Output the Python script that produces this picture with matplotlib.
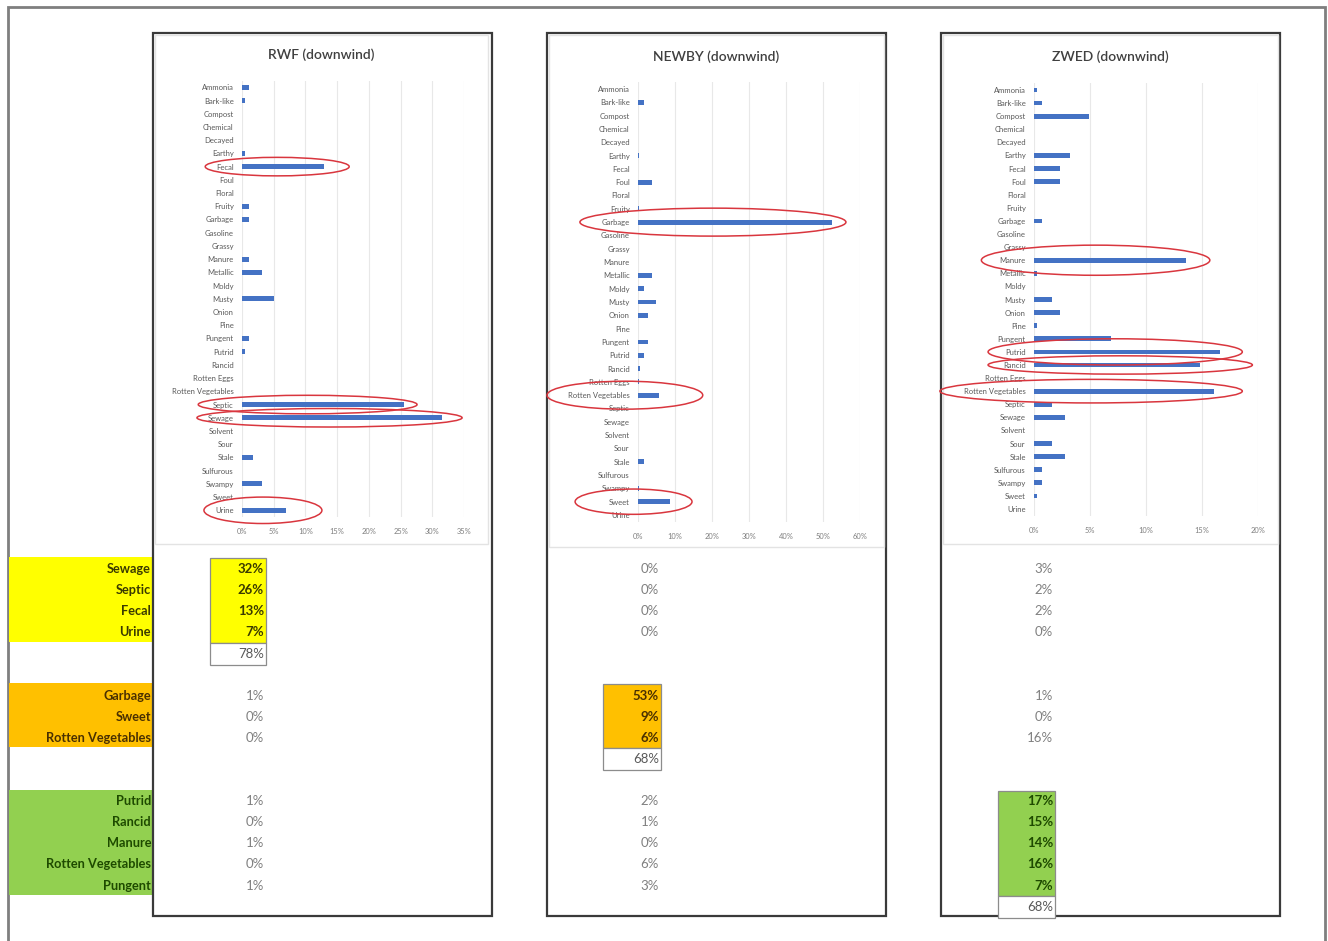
import matplotlib
matplotlib.use("Agg")
import matplotlib.pyplot as plt
from matplotlib.patches import Rectangle, Ellipse
import numpy as np

plt.rcParams['font.family'] = ['Lato', 'DejaVu Sans']

W, H = 1328, 941

# ---------------- data ----------------
categories = ["Ammonia", "Bark-like", "Compost", "Chemical", "Decayed", "Earthy",
              "Fecal", "Foul", "Floral", "Fruity", "Garbage", "Gasoline", "Grassy",
              "Manure", "Metallic", "Moldy", "Musty", "Onion", "Pine", "Pungent",
              "Putrid", "Rancid", "Rotten Eggs", "Rotten Vegetables", "Septic",
              "Sewage", "Solvent", "Sour", "Stale", "Sulfurous", "Swampy", "Sweet", "Urine"]

rwf_values = [1.1, 0.4, 0, 0, 0, 0.4, 13.0, 0, 0, 1.1, 1.1, 0, 0, 1.1, 3.1, 0, 5.0,
              0, 0, 1.1, 0.4, 0, 0, 0, 25.6, 31.5, 0, 0, 1.7, 0, 3.1, 0, 7.0]
newby_values = [0, 1.6, 0, 0, 0, 0.3, 0, 3.8, 0, 0.3, 52.5, 0, 0, 0, 3.8, 1.6, 4.8,
                2.7, 0, 2.7, 1.6, 0.5, 0.3, 5.7, 0, 0, 0, 0, 1.6, 0, 0.3, 8.7, 0]
zwed_values = [0.3, 0.7, 4.9, 0, 0, 3.2, 2.35, 2.35, 0, 0, 0.7, 0, 0, 13.6, 0.3, 0,
               1.6, 2.35, 0.3, 6.9, 16.6, 14.8, 0, 16.1, 1.6, 2.8, 0, 1.6, 2.8, 0.7,
               0.7, 0.3, 0]

titles = ["RWF (downwind)", "NEWBY (downwind)", "ZWED (downwind)"]
x_max = [35, 60, 20]
x_step = [5, 10, 5]

group_labels = [["Sewage", "Septic", "Fecal", "Urine"],
                ["Garbage", "Sweet", "Rotten Vegetables"],
                ["Putrid", "Rancid", "Manure", "Rotten Vegetables", "Pungent"]]
group_colors = ["#FFFF00", "#FFC000", "#92D050"]
group_text_colors = ["#3A3A00", "#4A3000", "#1E4A00"]

table_rwf = [[32, 26, 13, 7], [1, 0, 0], [1, 0, 1, 0, 1]]
table_newby = [[0, 0, 0, 0], [53, 9, 6], [2, 1, 0, 6, 3]]
table_zwed = [[3, 2, 2, 0], [1, 0, 16], [17, 15, 14, 16, 7]]
highlight_group = [0, 1, 2]
group_totals = [78, 68, 68]

# hand-drawn red ellipses: (category, left %, right %, height in rows)
ellipses = [
    [("Fecal", -5.8, 16.9, 1.4), ("Septic", -6.9, 27.6, 1.4),
     ("Sewage", -7.1, 34.7, 1.4), ("Urine", -6.0, 12.6, 2.0)],
    [("Garbage", -15.7, 56.2, 2.1), ("Rotten Vegetables", -24.6, 17.5, 2.1),
     ("Sweet", -17.0, 14.6, 1.9)],
    [("Manure", -4.7, 15.7, 2.3), ("Putrid", -4.1, 18.6, 2.0),
     ("Rancid", -4.1, 19.5, 1.4), ("Rotten Vegetables", -8.4, 18.6, 1.8)],
]

series = [rwf_values, newby_values, zwed_values]
tables = [table_rwf, table_newby, table_zwed]

# ---------------- layout (pixels) ----------------
panel_x = [153, 547, 941]
panel_w = 339
panel_top, panel_bottom = 33, 916
plot_x0 = [242, 638, 1034]
plot_x1 = [464, 860, 1258]
first_row_y = [87.3, 89.0, 90.0]
last_row_y = [510.3, 515.0, 509.0]
chart_box = [(155, 35, 488, 544), (549, 35, 884, 547), (943, 35, 1278, 544)]
title_y = [55, 57, 57]
value_right = [264, 659, 1053]
box_x = [(210, 266), (603, 661), (998, 1055)]
label_right = 151

group_rows = [[569, 590, 611, 632], [696, 717, 738], [801, 822, 843, 864, 886]]
group_total_y = [654, 759, 907]
group_block = [(557, 642), (683, 747), (790, 895)]
row_h = 21


def fx(px):
    return px / W


def fy(py):
    return 1 - py / H


fig = plt.figure(figsize=(W / 100, H / 100), dpi=100)
fig.patch.set_facecolor("white")


def frect(x0, y0, x1, y1, **kw):
    r = Rectangle((fx(x0), fy(y1)), (x1 - x0) / W, (y1 - y0) / H,
                  transform=fig.transFigure, **kw)
    fig.add_artist(r)
    return r


# outer frame
frect(8, 7, 1325, 960, fill=False, edgecolor="#7F7F7F", linewidth=2.0, zorder=1)

# left coloured label blocks
for g, labels in enumerate(group_labels):
    y0, y1 = group_block[g]
    frect(9, y0, panel_x[0], y1, facecolor=group_colors[g], edgecolor="none", zorder=1)
    for lab, ry in zip(labels, group_rows[g]):
        fig.text(fx(label_right), fy(ry), lab, ha="right", va="center",
                 fontsize=9.2, fontweight="bold", color=group_text_colors[g], zorder=3)

for p in range(3):
    # panel border
    frect(panel_x[p], panel_top, panel_x[p] + panel_w, panel_bottom, facecolor="white",
          edgecolor="#3A3A3A", linewidth=1.6, zorder=2)
    cx0, cy0, cx1, cy1 = chart_box[p]
    frect(cx0, cy0, cx1, cy1, fill=False, edgecolor="#E3E3E3", linewidth=1.0, zorder=3)

    # chart
    step = (last_row_y[p] - first_row_y[p]) / (len(categories) - 1)
    top = first_row_y[p] - step / 2
    bottom = last_row_y[p] + step / 2
    ax = fig.add_axes([fx(plot_x0[p]), fy(bottom), (plot_x1[p] - plot_x0[p]) / W,
                       (bottom - top) / H], zorder=4)
    ax.patch.set_alpha(0)
    y = np.arange(len(categories))
    ax.barh(y, series[p], height=0.36, color="#4472C4", zorder=3)
    ax.set_ylim(len(categories) - 0.5, -0.5)
    ax.set_xlim(0, x_max[p])
    ticks = np.arange(0, x_max[p] + 0.01, x_step[p])
    ax.set_xticks(ticks)
    ax.set_xticklabels([f"{int(t)}%" for t in ticks], fontsize=5.4, color="#7F7F7F")
    ax.set_yticks(y)
    ax.set_yticklabels(categories, fontsize=5.5, color="#595959")
    ax.tick_params(length=0, pad=6)
    ax.tick_params(axis="x", pad=8)
    for s in ax.spines.values():
        s.set_visible(False)
    ax.grid(axis="x", color="#E8E8E8", linewidth=0.8, zorder=0)
    ax.set_axisbelow(True)

    cat_index = {c: i for i, c in enumerate(categories)}
    for cat, l, r, h in ellipses[p]:
        e = Ellipse(((l + r) / 2, cat_index[cat]), r - l, h, fill=False,
                    edgecolor="#D9363E", linewidth=1.1, clip_on=False, zorder=6)
        ax.add_patch(e)

    fig.text(fx((cx0 + cx1) / 2), fy(title_y[p]), titles[p], ha="center", va="center",
             fontsize=10, fontweight="semibold", color="#404040", zorder=5)

    # table values
    hg = highlight_group[p]
    bx0, bx1 = box_x[p]
    by0, by1 = group_block[hg][0] + 1, group_block[hg][1] + 1
    frect(bx0, by0, bx1, by1, facecolor=group_colors[hg], edgecolor="#8C8C8C",
          linewidth=0.9, zorder=3)
    frect(bx0, by1, bx1, by1 + row_h + 1, facecolor="white", edgecolor="#8C8C8C",
          linewidth=0.9, zorder=3)
    for g in range(3):
        for v, ry in zip(tables[p][g], group_rows[g]):
            if g == hg:
                fig.text(fx(value_right[p]), fy(ry), f"{v}%", ha="right", va="center",
                         fontsize=9.5, fontweight="bold", color=group_text_colors[g],
                         zorder=5)
            else:
                fig.text(fx(value_right[p]), fy(ry), f"{v}%", ha="right", va="center",
                         fontsize=9.5, color="#808080", zorder=5)
    fig.text(fx(value_right[p]), fy(group_total_y[hg]), f"{group_totals[p]}%",
             ha="right", va="center", fontsize=9.5, color="#595959", zorder=5)

fig.savefig("out.png", dpi=100)
